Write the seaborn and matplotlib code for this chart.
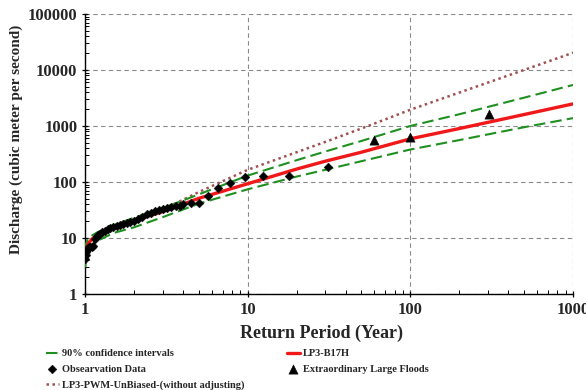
import matplotlib
matplotlib.use("Agg")
import matplotlib.pyplot as plt
import numpy as np
import pandas as pd
import seaborn as sns
from matplotlib.ticker import FixedLocator, FixedFormatter, LogLocator, NullFormatter

# ---- data ----
curve_T = [1.005, 1.01, 1.03, 1.05, 1.1, 1.2, 1.5, 2, 3, 5, 10, 20, 30, 50, 100, 200, 500, 1000]
lp3_b17h = [4.8, 5.5, 7.0, 8.0, 9.5, 11.5, 15.5, 20.5, 29.5, 51, 93, 170, 235, 340, 590, 900, 1600, 2480]
ci_upper = [6.0, 7.5, 9.0, 10.0, 11.0, 12.8, 17.0, 23, 34, 60, 130, 245, 350, 540, 1000, 1620, 3200, 5400]
ci_lower = [3.0, 3.8, 5.2, 6.2, 7.6, 9.0, 12.3, 15.5, 23.5, 41, 74, 125, 165, 235, 380, 560, 950, 1380]
lp3_pwm = [4.8, 5.5, 7.0, 8.0, 9.5, 11.5, 16.0, 21.5, 32, 66, 165, 340, 520, 900, 1950, 3950, 10000, 20300]

obs_T = [1.0, 1.007, 1.014, 1.02, 1.03, 1.04, 1.06, 1.08, 1.10, 1.12,
         1.15, 1.18, 1.21, 1.24, 1.28, 1.33, 1.38, 1.43, 1.49, 1.57,
         1.64, 1.72, 1.80, 1.89, 2.0, 2.13, 2.25, 2.4, 2.55, 2.7,
         2.85, 3.03, 3.2, 3.4, 3.62, 3.84, 4.02, 4.48, 5.0, 5.73,
         6.6, 7.8, 9.6, 12.5, 17.9, 31.3]
obs_Q = [4.3, 5.0, 5.6, 6.0, 6.4, 6.6, 6.8, 6.9, 7.0, 7.2,
         9.5, 11.0, 11.5, 12.0, 12.8, 13.5, 14.2, 14.8, 15.5, 16.3,
         17.0, 17.8, 18.3, 19.0, 20.5, 21.8, 24.0, 26.8, 28.0, 30.5,
         31.0, 33.0, 34.0, 36.0, 36.5, 37.5, 40.5, 43.0, 43.0, 57.0,
         79.0, 95.0, 124.0, 130.0, 130.0, 183.0]

flood_T = [60, 100, 304]
flood_Q = [560, 630, 1650]

x_ticks = [1, 10, 100, 1000]
y_ticks = [1, 10, 100, 1000, 10000, 100000]

# ---- style ----
sns.set_theme(style="white")
plt.rcParams["font.family"] = ["Liberation Serif", "DejaVu Serif"]
plt.rcParams["font.weight"] = "bold"

fig = plt.figure(figsize=(5.86, 3.9), dpi=100)
ax = fig.add_axes([0.1451, 0.2462, 0.8328, 0.718])

curves = pd.DataFrame({"T": curve_T, "b17h": lp3_b17h, "up": ci_upper,
                       "lo": ci_lower, "pwm": lp3_pwm})
obs = pd.DataFrame({"T": obs_T, "Q": obs_Q})
flood = pd.DataFrame({"T": flood_T, "Q": flood_Q})

green = "#1f8f1f"
red = "#f01818"
brown = "#a05252"

sns.lineplot(data=curves, x="T", y="pwm", ax=ax, color=brown, lw=1.8,
             linestyle=(0, (1, 1.4)), sort=False, label="LP3-PWM-UnBiased-(without adjusting)", zorder=3)
sns.lineplot(data=curves, x="T", y="up", ax=ax, color=green, lw=1.5,
             dashes=False, sort=False, label="90% confidence intervals", zorder=3)
sns.lineplot(data=curves, x="T", y="lo", ax=ax, color=green, lw=1.5,
             dashes=False, sort=False, zorder=3)
sns.lineplot(data=curves, x="T", y="b17h", ax=ax, color=red, lw=2.4,
             sort=False, label="LP3-B17H", zorder=4)
for ln in ax.get_lines()[1:3]:
    ln.set_dashes((5.5, 2.5))
sns.scatterplot(data=obs, x="T", y="Q", ax=ax, marker="D", s=20, color="black",
                edgecolor="black", linewidth=0.3, label="Obsearvation Data", zorder=5)
sns.scatterplot(data=flood, x="T", y="Q", ax=ax, marker="^", s=45, color="black",
                edgecolor="black", linewidth=0.3, label="Extraordinary Large Floods", zorder=5)

ax.set_xscale("log")
ax.set_yscale("log")
ax.set_xlim(1, 1000)
ax.set_ylim(1, 100000)

ax.xaxis.set_major_locator(FixedLocator(x_ticks))
ax.xaxis.set_major_formatter(FixedFormatter([str(v) for v in x_ticks]))
ax.yaxis.set_major_locator(FixedLocator(y_ticks))
ax.yaxis.set_major_formatter(FixedFormatter([str(v) for v in y_ticks]))
ax.xaxis.set_minor_locator(LogLocator(base=10, subs=np.arange(2, 10)))
ax.yaxis.set_minor_locator(LogLocator(base=10, subs=np.arange(2, 10)))
ax.xaxis.set_minor_formatter(NullFormatter())
ax.yaxis.set_minor_formatter(NullFormatter())

ax.tick_params(which="major", direction="inout", length=5, width=0.9, color="black",
               labelsize=12, pad=3, bottom=True, left=True)
ax.tick_params(which="minor", direction="in", length=3, width=0.7, color="black",
               bottom=True, left=True)
for lab in ax.get_xticklabels() + ax.get_yticklabels():
    lab.set_fontweight("bold")

ax.grid(True, which="major", color="#8a8a8a", linestyle=(0, (4, 3)), linewidth=0.8)
ax.grid(False, which="minor")
for s in ["top", "right"]:
    ax.spines[s].set_visible(False)
for s in ["left", "bottom"]:
    ax.spines[s].set_color("black")
    ax.spines[s].set_linewidth(1.0)

ax.set_xlabel("Return Period (Year)", fontsize=13, fontweight="bold", va="center")
ax.set_ylabel("Discharge (cubic meter per second)", fontsize=11, fontweight="bold", va="center")
ax.xaxis.set_label_coords(0.4836, -0.1400)
ax.yaxis.set_label_coords(-0.1414, 0.5536)

handles, labels = ax.get_legend_handles_labels()
ax.get_legend().remove()
lookup = dict(zip(labels, handles))
order = ["90% confidence intervals", "Obsearvation Data",
         "LP3-PWM-UnBiased-(without adjusting)", "LP3-B17H", "Extraordinary Large Floods"]
fig.legend([lookup[k] for k in order], order, loc="upper left",
           bbox_to_anchor=(0.078, 0.105), ncol=2, frameon=False,
           prop={"size": 7.5, "weight": "bold"}, handlelength=1.3, handletextpad=0.3,
           columnspacing=4.0, labelspacing=0.6, borderpad=0, borderaxespad=0)

fig.savefig("out.png", dpi=100)
